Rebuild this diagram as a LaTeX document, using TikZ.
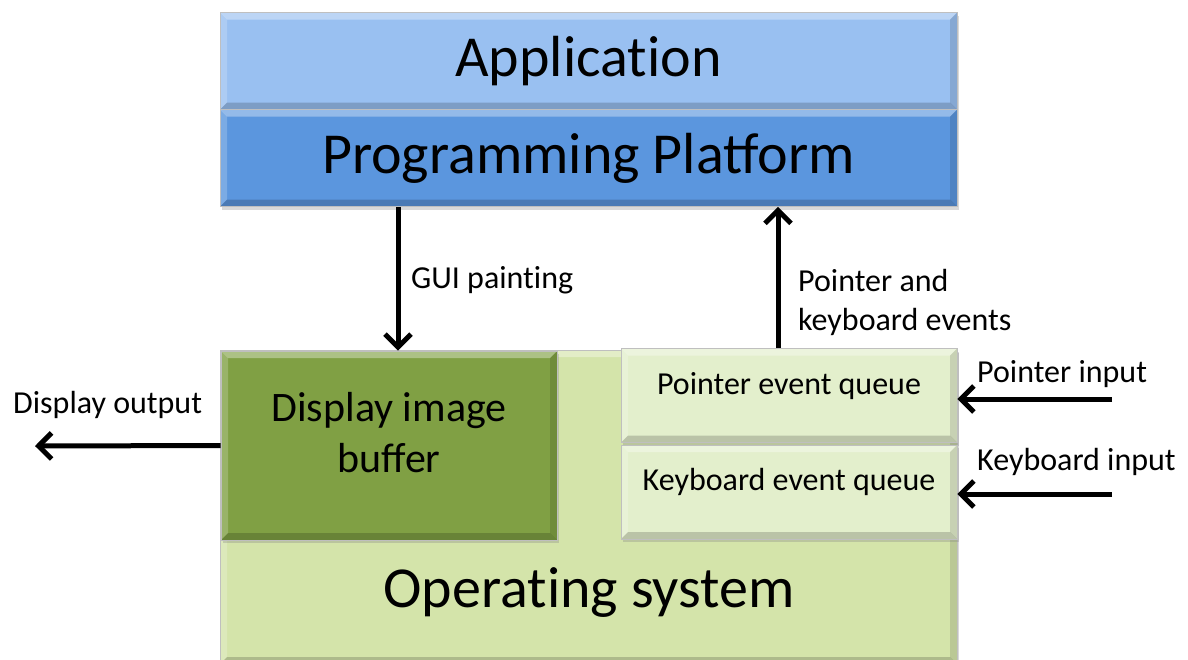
\documentclass[tikz,border=0pt]{standalone}
\usepackage{fontspec}
\setmainfont{Carlito}
\usetikzlibrary{arrows.meta, positioning, shadows}

\definecolor{appblue}{RGB}{153,192,241}
\definecolor{platblue}{RGB}{91,150,222}
\definecolor{osgreen}{RGB}{212,228,170}
\definecolor{bufgreen}{RGB}{128,160,68}
\definecolor{queuegreen}{RGB}{227,239,204}

% keep "t" and "i" apart (no ligature)
\newcommand{\tiapart}{t\kern0pt i}

\begin{document}
\begin{tikzpicture}[x=1pt, y=-1pt,
    bevel/.style={path picture={
        \fill[white, opacity=0.35] (path picture bounding box.north west) -- (path picture bounding box.north east)
            -- ([shift={(-7pt,-7pt)}]path picture bounding box.north east) -- ([shift={(7pt,-7pt)}]path picture bounding box.north west) -- cycle;
        \fill[white, opacity=0.2] (path picture bounding box.north west) -- ([shift={(7pt,-7pt)}]path picture bounding box.north west)
            -- ([shift={(7pt,7pt)}]path picture bounding box.south west) -- (path picture bounding box.south west) -- cycle;
        \fill[black, opacity=0.12] (path picture bounding box.north east) -- ([shift={(-7pt,-7pt)}]path picture bounding box.north east)
            -- ([shift={(-7pt,7pt)}]path picture bounding box.south east) -- (path picture bounding box.south east) -- cycle;
        \fill[black, opacity=0.18] (path picture bounding box.south west) -- (path picture bounding box.south east)
            -- ([shift={(-7pt,7pt)}]path picture bounding box.south east) -- ([shift={(7pt,7pt)}]path picture bounding box.south west) -- cycle;
    }},
    block/.style={rectangle, draw=black!25, line width=0.6pt, inner sep=0pt, bevel,
        drop shadow={shadow xshift=2pt, shadow yshift=-3pt, opacity=0.3}},
    layer/.style={block, minimum width=737pt, minimum height=97pt, font=\fontsize{58}{70}\selectfont},
    queue/.style={block, fill=queuegreen, minimum width=336pt, minimum height=94pt},
    smalltext/.style={font=\fontsize{32}{39}\selectfont, inner sep=0pt},
    arrow/.style={-{Straight Barb[length=13pt, width=26pt]}, line width=5pt}
]
\useasboundingbox (0,0) rectangle (1188,659);

% Operating system at the bottom
\node[block, fill=osgreen, minimum width=737pt, minimum height=314pt] (os) at (588.5,507) {};
\node[anchor=base, font=\fontsize{58}{70}\selectfont, inner sep=0pt] (oslabel) at (589,607) {Opera\tiapart ng system};

% Application and platform
\node[layer, fill=appblue] (app) at (588.5,61) {Applica\tiapart on};
\node[layer, fill=platblue] (plat) at (588.5,158) {Programming Platform};

% Display buffer
\node[block, fill=bufgreen, minimum width=336pt, minimum height=189pt] (buf) at (389,445.5) {};
\node[anchor=base, align=center, font=\fontsize{42}{51}\selectfont, inner sep=0pt] (buflabel) at (389,472) {Display image\\buffer};

% Event queues
\node[queue] (pq) at (789,395.5) {};
\node[queue] (kq) at (789,492) {};
\node[smalltext, anchor=base] (pqlabel) at (789,394) {Pointer event queue};
\node[smalltext, anchor=base] (kqlabel) at (789,490) {Keyboard event queue};

% Connectors
\draw[arrow] ([xshift=9pt]buf.north |- plat.south) -- ([xshift=9pt]buf.north);
\draw[arrow] ([xshift=-11pt]pq.north) -- ([xshift=-11pt]pq.north |- plat.south);

\coordinate (dispout) at (35,446);
\coordinate (ptrin) at (1112,399);
\coordinate (keyin) at (1112,494);
\draw[arrow] (buf.west) -- (dispout);
\draw[arrow] (ptrin) -- (ptrin -| pq.east);
\draw[arrow] (keyin) -- (keyin -| kq.east);

% Labels
\node[smalltext, anchor=base west] (guilabel) at (411,288) {GUI pain\tiapart ng};
\node[smalltext, anchor=base west, align=left] (evlabel) at (798,330) {Pointer and\\keyboard events};
\node[smalltext, anchor=base west] (displabel) at (13,413) {Display output};
\node[smalltext, anchor=base west] (ptrlabel) at (977,382) {Pointer input};
\node[smalltext, anchor=base west] (keylabel) at (977,470) {Keyboard input};

\end{tikzpicture}
\end{document}
